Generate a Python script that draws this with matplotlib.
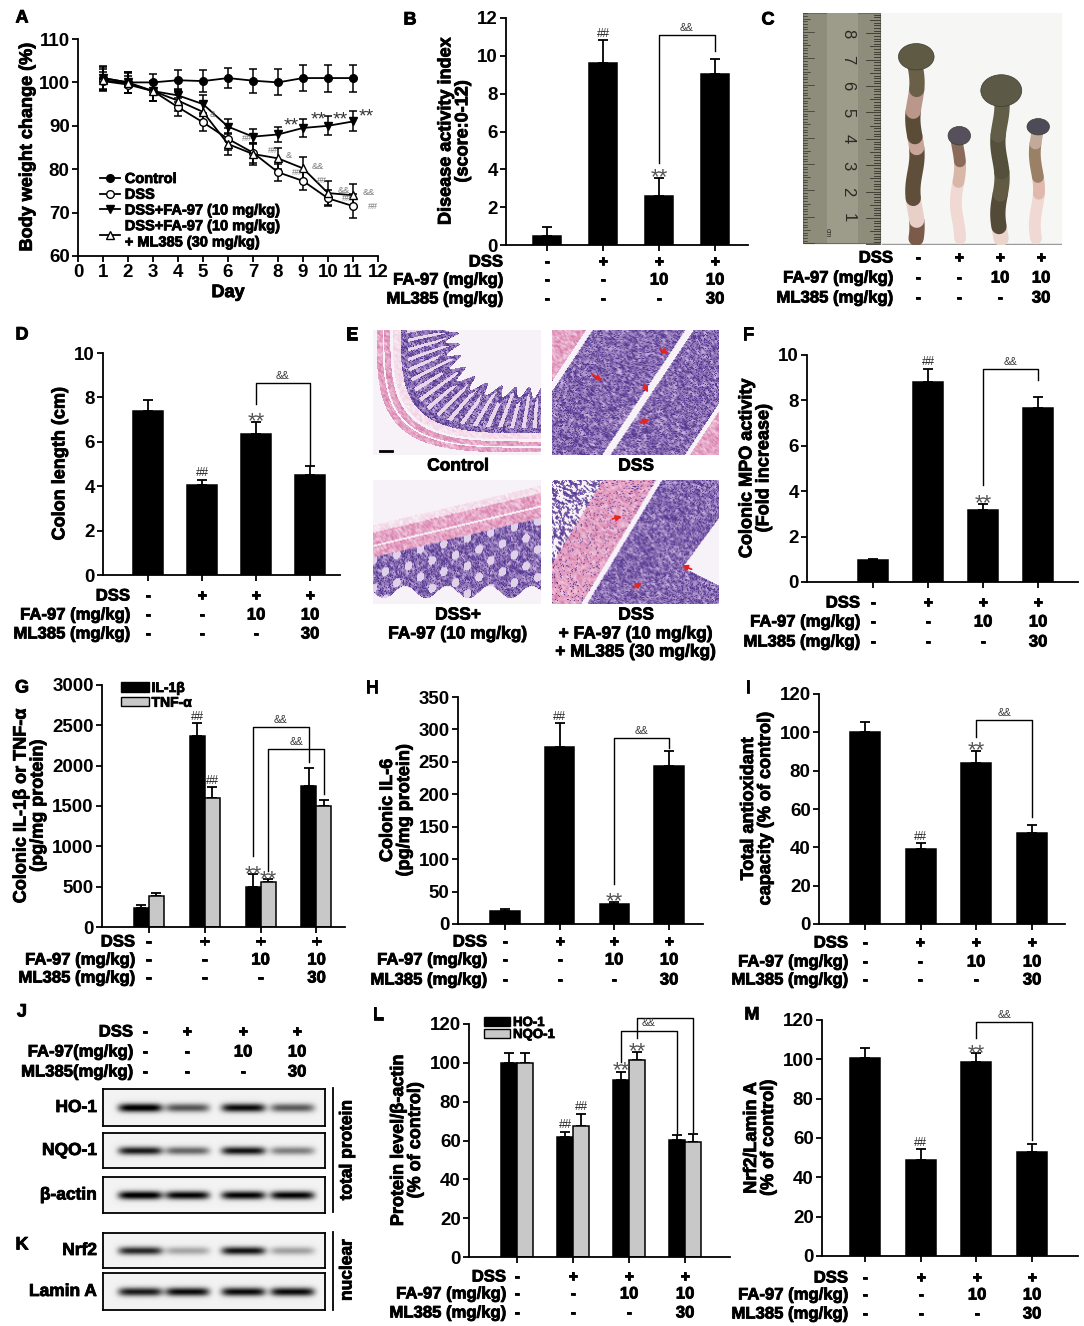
import numpy as np
import matplotlib
matplotlib.use("Agg")
import matplotlib.pyplot as plt
import matplotlib.text as mtext
import matplotlib.patheffects as pe
from matplotlib.patches import Rectangle, Ellipse, Patch
from matplotlib.lines import Line2D

plt.rcParams['font.family'] = ['Liberation Sans', 'DejaVu Sans']
plt.rcParams['font.weight'] = 'bold'
plt.rcParams['axes.labelweight'] = 'bold'
plt.rcParams['axes.linewidth'] = 1.3
plt.rcParams['xtick.major.width'] = 1.3
plt.rcParams['ytick.major.width'] = 1.3

W, H = 1084, 1326
fig = plt.figure(figsize=(W / 100, H / 100), dpi=100)

# ---------------- data ----------------
days = np.arange(1, 12)
bw_control = [101, 100, 100, 100.5, 100.3, 101, 100.4, 100, 101, 101, 101]
bw_control_err = [2.7, 2.5, 2, 2.3, 2.6, 2.4, 2.8, 3, 2.9, 3.1, 3.1]
bw_dss = [100.3, 99.5, 98, 94.3, 90.8, 87, 83.8, 79.3, 77.3, 73.3, 71.5]
bw_dss_err = [2, 2, 2.2, 2, 2, 2.5, 2.3, 2, 2.2, 1.8, 2.8]
bw_fa = [101, 100, 98, 97, 95, 89.8, 87.5, 88, 89.5, 90, 91]
bw_fa_err = [2.5, 2.5, 2.3, 1.5, 2, 1.8, 1.8, 1.8, 2, 2.2, 2.3]
bw_faml = [100.5, 99.8, 98, 95.8, 93.2, 85.8, 83.5, 82.5, 80.2, 74.5, 74]
bw_faml_err = [2.5, 2.3, 2.3, 2.5, 2.2, 2.5, 2.5, 2.5, 2.7, 2.8, 2.5]

dai = [0.45, 9.6, 2.6, 9.05]
dai_err = [0.5, 1.25, 0.95, 0.8]
colon_len = [7.4, 4.05, 6.35, 4.5]
colon_len_err = [0.5, 0.25, 0.55, 0.42]
photo_len = [6.88, 3.89, 5.6, 4.23]
mpo = [0.95, 8.8, 3.19, 7.65]
mpo_err = [0.08, 0.58, 0.26, 0.51]
il1b = [239, 2362, 494, 1753]
il1b_err = [37, 165, 160, 214]
tnf = [379, 1605, 556, 1506]
tnf_err = [41, 131, 41, 74]
il6 = [19.5, 273, 30.7, 244]
il6_err = [3.5, 37, 3.5, 23]
tac = [100.3, 39.1, 84.2, 47.4]
tac_err = [5.3, 3.4, 6.1, 4.0]
ho1 = [100, 62, 91, 60.5]
ho1_err = [5, 2.5, 4.5, 2.2]
nqo1 = [100, 67.5, 101.5, 59]
nqo1_err = [5, 6, 4.3, 4.3]
nrf2 = [100.5, 48.7, 98.5, 53]
nrf2_err = [5.1, 5.6, 4.5, 3.7]

ho1_band = [1.0, 0.62, 0.92, 0.6]
nqo1_band = [0.85, 0.55, 0.88, 0.45]
actin_band = [1.0, 0.95, 0.95, 0.95]
nrf2_band = [0.8, 0.3, 0.88, 0.32]
lamin_band = [0.85, 0.92, 0.92, 0.92]

dss_row = ['-', '+', '+', '+']
fa_row = ['-', '-', '10', '10']
ml_row = ['-', '-', '-', '30']
row_names = ['DSS', 'FA-97 (mg/kg)', 'ML385 (mg/kg)']
GRAY = '#c8c8c8'
TICK = 13.5


def px_axes(x0, y0, x1, y1):
    return fig.add_axes([x0 / W, 1 - y1 / H, (x1 - x0) / W, (y1 - y0) / H])


def ftext(x, y, s, **kw):
    kw.setdefault('fontsize', 12)
    fig.text(x / W, 1 - y / H, s, **kw)


def treat_table(cols_px, rows_px, right_px, names=row_names):
    for name, vals, ypx in zip(names, [dss_row, fa_row, ml_row], rows_px):
        ftext(right_px, ypx, name, ha='right', va='center')
        for xp, v in zip(cols_px, vals):
            ftext(xp, ypx, v, ha='center', va='center')


def bar_axes(xl, xr, ytop_px, y0_px, xpx, ymax, ystep, ylabel):
    ax = px_axes(xl, ytop_px, xr, y0_px)
    s = (xpx[-1] - xpx[0]) / 3
    ax.set_xlim((xl - xpx[0]) / s, (xr - xpx[0]) / s)
    ax.set_ylim(0, ymax)
    ax.set_yticks(np.arange(0, ymax + ystep / 2, ystep))
    ax.set_xticks(range(4))
    ax.set_xticklabels([])
    for sp in ['top', 'right']:
        ax.spines[sp].set_visible(False)
    ax.tick_params(direction='out', length=4, labelsize=TICK, pad=2)
    ax.set_ylabel(ylabel, fontsize=13, linespacing=1.0, labelpad=4)
    return ax


def bars(ax, xs, vals, errs, color='black', width=0.54):
    ax.bar(xs, vals, width=width, color=color, edgecolor='black', linewidth=1.1, zorder=2)
    ax.errorbar(xs, vals, yerr=[np.zeros(len(errs)), errs], fmt='none',
                ecolor='black', elinewidth=1.3, capsize=3.5, capthick=1.3, zorder=1)


def mark(ax, x, y, s):
    if s == '**':
        ax.annotate(s, (x, y), xytext=(0, -4.5), textcoords='offset points', ha='center',
                    va='baseline', fontsize=16, color='#555555', fontweight='normal')
    else:
        ax.annotate(s, (x, y), xytext=(0, 1.5), textcoords='offset points', ha='center',
                    va='baseline', fontsize=8.5, color='#222222', fontweight='normal')


def bracket(ax, xl, xr, ytop, yl, yr):
    ax.plot([xl, xl, xr, xr], [yl, ytop, ytop, yr], color='black', lw=1, clip_on=False)
    ax.annotate('&&', ((xl + xr) / 2, ytop), xytext=(0, 3), textcoords='offset points',
                ha='center', va='baseline', fontsize=7.5, color='#333333', fontweight='normal')


# ---------------- panel labels ----------------
for lab, x, y in [('A', 22, 18), ('B', 410, 20), ('C', 768, 20), ('D', 22, 335),
                  ('E', 352, 335), ('F', 748, 335), ('G', 22, 688), ('H', 372, 688),
                  ('I', 748, 688), ('J', 22, 1012), ('K', 22, 1245), ('L', 378, 1015),
                  ('M', 752, 1015)]:
    ftext(x, y, lab, ha='center', va='center', fontsize=13)

# ---------------- A ----------------
axA = px_axes(78, 39, 378, 256)
styles = [(bw_control, bw_control_err, 'o', 'black', 'Control'),
          (bw_dss, bw_dss_err, 'o', 'white', 'DSS'),
          (bw_fa, bw_fa_err, 'v', 'black', 'DSS+FA-97 (10 mg/kg)'),
          (bw_faml, bw_faml_err, '^', 'white', 'DSS+FA-97 (10 mg/kg)\n+ ML385 (30 mg/kg)')]
handles = []
for vals, errs, mk, mfc, lab in styles:
    axA.errorbar(days, vals, yerr=errs, color='black', lw=1.3, marker=mk, ms=5.5,
                 mfc=mfc, mec='black', capsize=3, capthick=1.1, elinewidth=1.1)
    handles.append(Line2D([], [], color='black', lw=1.3, marker=mk, ms=5.5, mfc=mfc, mec='black'))
axA.set_xlim(0, 12)
axA.set_ylim(60, 110)
axA.set_xticks(range(13))
axA.set_yticks(range(60, 111, 10))
for sp in ['top', 'right']:
    axA.spines[sp].set_visible(False)
axA.tick_params(direction='out', length=4, labelsize=TICK, pad=2)
axA.set_xlabel('Day', fontsize=13, labelpad=2)
axA.set_ylabel('Body weight change (%)', fontsize=13, labelpad=2)
axA.legend(handles, [s[4] for s in styles], loc='upper left', bbox_to_anchor=(100 / W, 1 - 172 / H),
           bbox_transform=fig.transFigure, frameon=False, fontsize=10.5, handlelength=1.4,
           handletextpad=0.3, labelspacing=0.12, borderpad=0, borderaxespad=0)
for x, y in [(8.55, 89.7), (9.6, 91.1), (10.48, 91.1), (11.55, 91.7)]:
    axA.annotate('**', (x, y), xytext=(0, -2.5), textcoords='offset points', ha='center',
                 va='baseline', fontsize=14, color='#333333', fontweight='normal')
for x, y in [(6.55, 87.0), (7.6, 84.2), (8.55, 79.3), (9.55, 77.3), (10.55, 73.3), (11.6, 71.5)]:
    axA.text(x, y, '##', ha='left', va='center', fontsize=6.5, color='#777777', fontweight='normal')
for x, y, s in [(5.25, 92.5, '&'), (8.3, 83.2, '&'), (9.35, 80.6, '&&'), (10.4, 75.0, '&&'),
                (11.4, 74.6, '&&')]:
    axA.text(x, y, s, ha='left', va='center', fontsize=6.5, color='#777777', fontweight='normal')

# ---------------- B ----------------
xB = [547, 603, 659, 715]
axB = bar_axes(506, 748, 18, 245, xB, 12, 2, 'Disease activity index\n(score:0-12)')
bars(axB, range(4), dai, dai_err, width=0.5)
mark(axB, 1, 10.9, '##')
mark(axB, 2, 3.6, '**')
bracket(axB, 2, 3, 11.1, 4.36, 10.24)
treat_table(xB, [262, 280, 299], 503)

# ---------------- C (photo) ----------------
axC = px_axes(803, 13, 1062, 245)
axC.set_xlim(0, 259 / 26.4)
axC.set_ylim(0, 232 / 26.4)
axC.set_facecolor('#f6f6f4')
axC.set_xticks([])
axC.set_yticks([])
for sp in axC.spines.values():
    sp.set_visible(False)
axC.add_patch(Rectangle((0.0, 0.06), 2.9, 8.73, fc='#8e8c7b', ec='#6d6b5e', lw=0.8))
axC.add_patch(Rectangle((0.9, 0.06), 1.2, 8.73, fc='#9d9b89', ec='none'))
for m in range(88):
    y = 0.02 + m * 0.1
    ln = 0.5 if m % 10 == 0 else (0.35 if m % 5 == 0 else 0.2)
    axC.plot([2.9 - ln, 2.9], [y, y], color='#35342d', lw=0.6)
    axC.plot([0.0, ln * 0.8], [y + 0.05, y + 0.05], color='#35342d', lw=0.5)
for k in range(1, 9):
    axC.text(1.7, k + 0.02, str(k), rotation=-90, ha='center', va='center', fontsize=12,
             fontweight='normal', color='#2a2922')
axC.text(0.9, 0.45, 'cm', rotation=-90, fontsize=5, fontweight='normal', color='#2a2922',
         ha='center', va='center')
axC.plot([3.0, 9.8], [0.05, 0.05], color='#9a9a9a', lw=1)
colon_x = [4.24, 5.87, 7.46, 8.86]
colon_lw = [11, 8.5, 11, 8.5]
head_size = [(1.35, 1.0), (0.85, 0.7), (1.55, 1.2), (0.85, 0.62)]
head_col = ['#5f5a44', '#55505c', '#5c5a46', '#4d4b58']
colon_segments = [
    [(0, 0.1, '#7b5a4a'), (0.1, 0.22, '#e8cfc8'), (0.22, 0.5, '#5f4e3a'), (0.5, 0.56, '#c8a597'),
     (0.56, 0.7, '#5b4c38'), (0.7, 0.82, '#b9978a'), (0.82, 1, '#6a6048')],
    [(0, 0.55, '#efd9d2'), (0.55, 0.75, '#d8b6a8'), (0.75, 1, '#8a6a58')],
    [(0, 0.08, '#ead4cc'), (0.08, 0.3, '#534a38'), (0.3, 0.45, '#625a42'), (0.45, 0.7, '#55503c'),
     (0.7, 1, '#625d47')],
    [(0, 0.4, '#efd9d2'), (0.4, 0.55, '#e0b8ae'), (0.55, 0.85, '#9a8064'), (0.85, 1, '#c2a99a')],
]
for i in range(4):
    y0c = 0.25
    top = y0c + photo_len[i]
    for f0, f1, col in colon_segments[i]:
        ys = np.linspace(y0c + f0 * (top - y0c), y0c + f1 * (top - y0c), 12)
        xs = colon_x[i] + 0.08 * np.sin(ys * 2.3 + i)
        axC.plot(xs, ys, color=col, lw=colon_lw[i], solid_capstyle='round', zorder=2)
    hw, hh = head_size[i]
    axC.add_patch(Ellipse((colon_x[i] + 0.05, top), hw, hh, fc=head_col[i], ec='#3e3a30', lw=0.5, zorder=3))
treat_table([918, 959, 1000, 1041], [258, 278, 298], 893)

# ---------------- D ----------------
xD = [148, 202, 256, 310]
axD = bar_axes(103, 340, 353, 575, xD, 10, 2, 'Colon length (cm)')
bars(axD, range(4), colon_len, colon_len_err, width=0.55)
mark(axD, 1, 4.35, '##')
mark(axD, 2, 6.95, '**')
bracket(axD, 2, 3, 8.65, 7.7, 4.95)
treat_table(xD, [596, 615, 634], 130)


# ---------------- E (histology) ----------------
def hash_noise(xx, yy, seed):
    n = np.sin(xx * 12.9898 + yy * 78.233 + seed) * 43758.5453
    return n - np.floor(n)


def blur(a):
    out = a.copy()
    for dx, dy in [(1, 0), (-1, 0), (0, 1), (0, -1), (1, 1), (-1, -1)]:
        out += np.roll(np.roll(a, dx, 1), dy, 0)
    return out / 7


def tissue(kind, w=168, h=125):
    yy, xx = np.mgrid[0:h, 0:w].astype(float)
    u, v = xx / w, yy / h
    tex = blur(hash_noise(xx, yy, kind))
    tex = np.clip((tex - tex.min()) / (tex.max() - tex.min()) * 1.6 - 0.3, 0, 1)
    dots = hash_noise(xx, yy, kind + 7) > 0.82
    white = np.array([0.97, 0.95, 0.97])
    ltpink = np.array([0.95, 0.8, 0.88])
    pink = np.array([0.84, 0.48, 0.66])
    ltpur = np.array([0.8, 0.7, 0.87])
    dark = np.array([0.33, 0.22, 0.57])
    img = np.ones((h, w, 3)) * white

    def paint(mask, c1, c2, nuclei=True):
        t = tex[mask][:, None]
        img[mask] = c1 * (1 - t) + c2 * t
        if nuclei:
            img[mask & dots] = dark

    if kind == 0:
        rho = ((np.abs(xx - 175) / 172) ** 4 + (np.abs(yy + 15) / 137) ** 4) ** 0.25
        th = np.arctan2((yy + 15) / 137, (xx - 175) / 172)
        paint((rho > 0.92) & (rho < 1.0), ltpink, pink, False)
        img[(rho > 0.955) & (rho < 0.965)] = white
        paint((rho > 0.86) & (rho < 0.905), white, ltpink, False)
        edge = 0.56 + 0.04 * np.sin(th * 45)
        paint((rho > edge) & (rho < 0.86), ltpur, dark)
        lum = (rho > edge + 0.05) & (rho < 0.82) & (np.cos(th * 80 + 6 * rho) > 0.45)
        img[lum] = np.array([0.9, 0.84, 0.92])
    elif kind == 1:
        s = u + 0.5 * v
        paint(np.ones_like(u, bool), ltpur, dark)
        paint(s < 0.2, ltpink, pink, False)
        img[(s > 0.2) & (s < 0.24)] = white
        img[np.abs(s - 0.82) < 0.025] = white
        paint(s > 1.32, ltpink, pink, False)
        img[(s > 1.29) & (s < 1.32)] = white
    elif kind == 2:
        vt = 0.42 - 0.32 * u
        paint((v > vt - 0.06) & (v < vt), white, ltpink, False)
        paint((v >= vt) & (v < vt + 0.2), ltpink, pink, False)
        img[(v > vt + 0.1) & (v < vt + 0.115)] = white
        bot = 0.9 + 0.05 * np.sin(u * 25)
        zone = (v >= vt + 0.2) & (v < bot)
        paint(zone, ltpur, dark)
        lum = zone & (np.cos(u * 45) * np.cos((v - vt) * 28) > 0.55)
        img[lum] = np.array([0.88, 0.82, 0.92])
    else:
        s = u + 0.45 * v
        paint((s < 0.3) & (tex > 0.5), ltpur, dark)
        paint((s >= 0.3) & (s < 0.62), ltpink, pink, False)
        img[(s >= 0.3) & (s < 0.62) & (hash_noise(xx, yy, 11) > 0.93)] = dark
        paint(s >= 0.655, ltpur, dark)
        lim = np.where(v < 0.7, 1 - 0.55 * (v - 0.3), 0.78 + 1.47 * (v - 0.7))
        img[(v > 0.3) & (v < 0.85) & (u > lim)] = white
    return img


e_boxes = [(373, 330, 541, 455), (552, 330, 719, 455), (373, 480, 541, 604), (552, 480, 719, 604)]
e_arrows = [[], [((106, 18), (120, 25)), ((38, 43), (53, 52)), ((91, 52), (98, 65)), ((86, 93), (101, 89))],
            [], [((58, 40), (73, 36)), ((143, 91), (128, 85)), ((80, 110), (93, 102))]]
for k, (x0, y0, x1, y1) in enumerate(e_boxes):
    ax = px_axes(x0, y0, x1, y1)
    ax.imshow(tissue(k), extent=(0, 168, 125, 0), aspect='auto', interpolation='bilinear')
    ax.set_xlim(0, 168)
    ax.set_ylim(125, 0)
    ax.axis('off')
    for (sx, sy), (tx, ty) in e_arrows[k]:
        ax.annotate('', (tx, ty), xytext=(sx, sy),
                    arrowprops=dict(arrowstyle='-|>', color='#e8231f', lw=1.3, mutation_scale=8))
    if k == 0:
        ax.plot([7, 19], [121, 121], color='black', lw=2)
for x, y, s in [(458, 466, 'Control'), (636, 466, 'DSS'), (458, 615, 'DSS+'),
                (458, 634, 'FA-97 (10 mg/kg)'), (636, 615, 'DSS'),
                (636, 634, '+ FA-97 (10 mg/kg)'), (636, 652, '+ ML385 (30 mg/kg)')]:
    ftext(x, y, s, ha='center', va='center', fontsize=12.5)

# ---------------- F ----------------
xF = [873, 928, 983, 1038]
axF = bar_axes(807, 1078, 355, 582, xF, 10, 2, 'Colonic MPO activity\n(Fold increase)')
bars(axF, range(4), mpo, mpo_err)
mark(axF, 1, 9.45, '##')
mark(axF, 2, 3.5, '**')
bracket(axF, 2, 3, 9.37, 4.26, 8.9)
treat_table(xF, [603, 622, 642], 860)

# ---------------- G ----------------
xG = [148.5, 204.5, 260.5, 316.5]
axG = bar_axes(102, 345, 685, 927, xG, 3000, 500, 'Colonic IL-1β or TNF-α\n(pg/mg protein)')
wG = 15 / 56
xs = np.arange(4)
bars(axG, xs - wG / 2, il1b, il1b_err, width=wG)
bars(axG, xs + wG / 2, tnf, tnf_err, color=GRAY, width=wG)
mark(axG, 1 - wG / 2, 2540, '##')
mark(axG, 1 + wG / 2, 1750, '##')
mark(axG, 2 - wG / 2, 660, '**')
mark(axG, 2 + wG / 2, 600, '**')
bracket(axG, 2 - wG / 2, 3 - wG / 2, 2477, 885, 2045)
bracket(axG, 2 + wG / 2, 3 + wG / 2, 2201, 700, 1654)
axG.legend([Patch(fc='black', ec='black'), Patch(fc=GRAY, ec='black')], ['IL-1β', 'TNF-α'],
           loc='upper left', bbox_to_anchor=(121 / W, 1 - 681 / H), bbox_transform=fig.transFigure,
           frameon=False, fontsize=10, handlelength=2.0, handleheight=0.65, labelspacing=0.05,
           handletextpad=0.2, borderpad=0, borderaxespad=0)
treat_table(xG, [942, 960, 978], 135)

# ---------------- H ----------------
xH = [505, 560, 614, 669]
axH = bar_axes(458, 703, 697, 924, xH, 350, 50, 'Colonic IL-6\n(pg/mg protein)')
bars(axH, range(4), il6, il6_err)
mark(axH, 1, 312, '##')
mark(axH, 2, 36, '**')
bracket(axH, 2, 3, 287, 62, 271)
treat_table(xH, [942, 960, 980], 487)

# ---------------- I ----------------
xI = [865, 920, 976, 1032]
axI = bar_axes(819, 1065, 694, 924, xI, 120, 20, 'Total antioxidant\ncapacity (% of control)')
bars(axI, range(4), tac, tac_err)
mark(axI, 1, 43, '##')
mark(axI, 2, 91, '**')
bracket(axI, 2, 3, 106.4, 97.7, 56)
treat_table(xI, [943, 962, 980], 848)

# ---------------- J / K (blots) ----------------
blot_rows = [('HO-1', 1089, 1126, ho1_band), ('NQO-1', 1133, 1168, nqo1_band),
             ('β-actin', 1177, 1213, actin_band), ('Nrf2', 1233, 1268, nrf2_band),
             ('Lamin A', 1273, 1310, lamin_band)]
lane_px = [140, 187, 243, 292]
for name, y0, y1, inten in blot_rows:
    ax = px_axes(103, y0, 325, y1)
    hgt, wid = 60, 222
    yy, xx = np.mgrid[0:hgt, 0:wid].astype(float)
    img = np.zeros((hgt, wid))
    for c, a in zip(lane_px, inten):
        img += a * np.exp(-((xx - (c - 103)) / 22) ** 6) * np.exp(-((yy - hgt / 2) / 7) ** 2)
    ax.imshow(0.05 + img, cmap='gray_r', vmin=0, vmax=1.0, aspect='auto', interpolation='bilinear')
    ax.set_xticks([])
    ax.set_yticks([])
    for sp in ax.spines.values():
        sp.set_linewidth(1.3)
    ftext(97, (y0 + y1) / 2, name, ha='right', va='center', fontsize=12.5)
treat_table([145, 187, 243, 297], [1032, 1052, 1072], 133, ['DSS', 'FA-97(mg/kg)', 'ML385(mg/kg)'])
fig.add_artist(Line2D([333 / W, 333 / W], [1 - 1088 / H, 1 - 1212 / H], color='black', lw=1.3))
fig.add_artist(Line2D([333 / W, 333 / W], [1 - 1232 / H, 1 - 1310 / H], color='black', lw=1.3))
ftext(347, 1150, 'total protein', rotation=90, ha='center', va='center', fontsize=12.5)
ftext(347, 1270, 'nuclear', rotation=90, ha='center', va='center', fontsize=12.5)

# ---------------- L ----------------
xL = [517, 573, 629, 685]
axL = bar_axes(469, 730, 1024, 1257, xL, 120, 20, 'Protein level/β-actin\n(% of control)')
wL = 16 / 56
bars(axL, xs - wL / 2, ho1, ho1_err, width=wL)
bars(axL, xs + wL / 2, nqo1, nqo1_err, color=GRAY, width=wL)
mark(axL, 1 - wL / 2, 65.5, '##')
mark(axL, 1 + wL / 2, 74.5, '##')
mark(axL, 2 - wL / 2, 96.5, '**')
mark(axL, 2 + wL / 2, 106, '**')
bracket(axL, 2 - wL / 2, 3 - wL / 2, 116.6, 100.6, 64)
bracket(axL, 2 + wL / 2, 3 + wL / 2, 122.9, 113, 64.5)
axL.legend([Patch(fc='black', ec='black'), Patch(fc=GRAY, ec='black')], ['HO-1', 'NQO-1'],
           loc='upper left', bbox_to_anchor=(484 / W, 1 - 1017 / H), bbox_transform=fig.transFigure,
           frameon=False, fontsize=9.5, handlelength=2.0, handleheight=0.6, labelspacing=0.0,
           handletextpad=0.2, borderpad=0, borderaxespad=0)
treat_table(xL, [1277, 1294, 1313], 506)

# ---------------- M ----------------
xM = [865, 921, 977, 1032]
axM = bar_axes(822, 1078, 1020, 1256, xM, 120, 20, 'Nrf2/Lamin A\n(% of control)')
bars(axM, range(4), nrf2, nrf2_err)
mark(axM, 1, 55, '##')
mark(axM, 2, 103.5, '**')
bracket(axM, 2, 3, 119, 110.7, 59)
treat_table(xM, [1278, 1295, 1314], 848)

# heavier strokes for bold text, like the scanned figure
for t in fig.findobj(mtext.Text):
    if t.get_fontweight() in ('bold', 700) and t.get_text():
        t.set_path_effects([pe.withStroke(linewidth=0.6, foreground=t.get_color())])

fig.savefig('out.png', dpi=100)
